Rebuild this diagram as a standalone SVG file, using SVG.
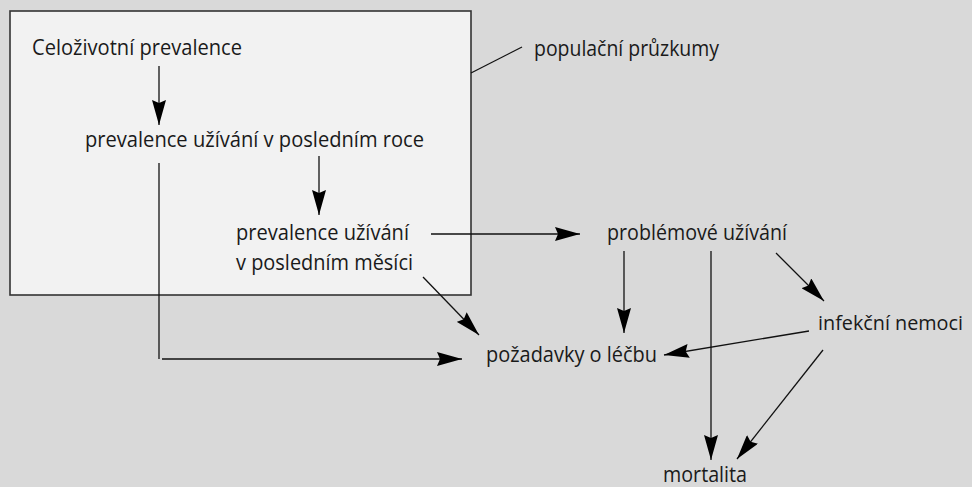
<svg xmlns="http://www.w3.org/2000/svg" width="972" height="487" viewBox="0 0 972 487">
<style>
text{font-family:"Open Sans","DejaVu Sans",sans-serif;font-size:22px;fill:#1a1a1a}
.ln{stroke:#111;stroke-width:1.3;fill:none}
.ar{marker-end:url(#ah)}
</style>
<defs>
<marker id="ah" viewBox="0 0 25 14" markerWidth="25" markerHeight="14" refX="25" refY="7" orient="auto" markerUnits="userSpaceOnUse">
<path d="M0,0 L25,7 L0,14 L3,7 z" fill="#000"/>
</marker>
</defs>
<rect x="0" y="0" width="972" height="487" fill="#d9d9d9"/>
<g id="populacni-box">
<rect x="10" y="11" width="461" height="284" fill="#f2f2f2" stroke="#333" stroke-width="1.6"/>
</g>
<g id="n-celozivotni"><text x="32" y="55" textLength="210" lengthAdjust="spacingAndGlyphs">Celoživotní prevalence</text></g>
<g id="n-rok"><text x="85" y="147" textLength="339" lengthAdjust="spacingAndGlyphs">prevalence užívání v posledním roce</text></g>
<g id="n-mesic"><text x="236" y="239.5" textLength="173" lengthAdjust="spacingAndGlyphs">prevalence užívání</text><text x="236" y="269.5" textLength="177" lengthAdjust="spacingAndGlyphs">v posledním měsíci</text></g>
<g id="n-populacni"><text x="534" y="56" textLength="185" lengthAdjust="spacingAndGlyphs">populační průzkumy</text></g>
<g id="n-problemove"><text x="607" y="239.5" textLength="180" lengthAdjust="spacingAndGlyphs">problémové užívání</text></g>
<g id="n-infekcni"><text x="818" y="330" style="font-size:20px" textLength="145" lengthAdjust="spacingAndGlyphs">infekční nemoci</text></g>
<g id="n-pozadavky"><text x="486" y="362" textLength="171" lengthAdjust="spacingAndGlyphs">požadavky o léčbu</text></g>
<g id="n-mortalita"><text x="663" y="482" textLength="84" lengthAdjust="spacingAndGlyphs">mortalita</text></g>
<g id="connectors">
<line class="ln" x1="471" y1="73" x2="522" y2="47"/>
<line class="ln ar" x1="159" y1="66" x2="159" y2="125"/>
<line class="ln ar" x1="319" y1="156" x2="319" y2="215"/>
<line class="ln" x1="159" y1="163" x2="159" y2="359"/>
<line class="ln ar" x1="162" y1="359" x2="462" y2="359"/>
<line class="ln ar" x1="423" y1="277" x2="479" y2="335"/>
<line class="ln ar" x1="431" y1="234" x2="580" y2="234"/>
<line class="ln ar" x1="624" y1="251" x2="624" y2="333"/>
<line class="ln ar" x1="711" y1="251" x2="711" y2="460"/>
<line class="ln ar" x1="776" y1="253" x2="824" y2="301"/>
<line class="ln ar" x1="809" y1="331" x2="664" y2="355"/>
<line class="ln ar" x1="823" y1="350" x2="737" y2="459"/>
</g>
</svg>
